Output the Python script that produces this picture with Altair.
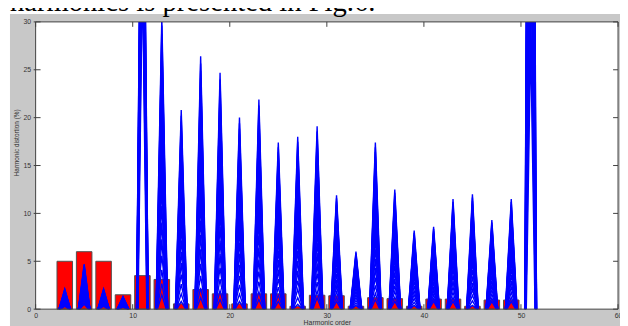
import altair as alt
import pandas as pd

# ---- data ----
bar_orders = [3, 5, 7, 9, 11, 13, 15, 17, 19, 21, 23, 25, 27, 29, 31, 33, 35, 37, 39, 41, 43, 45, 47, 49]
bar_values = [5.0, 6.0, 5.0, 1.5, 3.5, 3.1, 0.55, 2.05, 1.6, 0.55, 1.6, 1.6, 0.3, 1.45, 1.4, 0.3,
              1.2, 1.1, 0.3, 1.05, 1.05, 0.3, 0.95, 0.95]

spike_orders = [3, 5, 7, 9, 11, 13, 15, 17, 19, 21, 23, 25, 27, 29, 31, 33, 35, 37, 39, 41, 43, 45, 47, 49, 51]
spike_high = [2.1, 4.7, 2.1, 1.3, 65.0, 30.5, 20.8, 26.4, 24.7, 20.0, 21.9, 17.4, 18.0, 19.1, 11.9, 6.0,
              17.4, 12.5, 8.2, 8.6, 11.5, 12.0, 9.3, 11.5, 130.0]
spike_low = [0.3, 0.5, 0.3, 0.2, 35.0, 1.5, 0.8, 1.2, 1.0, 0.8, 1.0, 0.8, 0.5, 1.2, 0.8, 0.4,
             1.0, 0.8, 0.4, 0.8, 0.8, 0.4, 0.8, 0.8, 28.0]
curve_levels = [0.0, 0.04, 0.09, 0.14, 0.2, 0.26, 0.32, 0.38, 0.44, 0.5, 0.56, 0.62, 0.68,
                0.73, 0.78, 0.83, 0.87, 0.91, 0.94, 0.97, 1.0]
curve_halfwidths = [0.45, 0.5, 0.55, 0.6, 0.48, 0.52, 0.58, 0.62, 0.47, 0.53, 0.57, 0.6, 0.5,
                    0.55, 0.6, 0.52, 0.56, 0.6, 0.54, 0.57, 0.6]

x_ticks = [0, 10, 20, 30, 40, 50, 60]
y_ticks = [0, 5, 10, 15, 20, 25, 30]

# ---- geometry / style ----
BAR_HALF = 0.8
W, H = 590, 291
FONT = "Liberation Sans"
AX = "#404040"

bars_df = pd.DataFrame({"h": bar_orders, "v": bar_values})
bars_df["x0"] = bars_df["h"] - BAR_HALF
bars_df["x1"] = bars_df["h"] + BAR_HALF
bars_df["base"] = 0.0

rows = []
for k, (f, hw) in enumerate(zip(curve_levels, curve_halfwidths)):
    for h, hi, lo in zip(spike_orders, spike_high, spike_low):
        p = lo + (hi - lo) * f
        g = f"{k}-{h}"
        rows.append({"g": g, "o": 0, "x": h - hw, "y": 0.0})
        rows.append({"g": g, "o": 1, "x": h, "y": p})
        rows.append({"g": g, "o": 2, "x": h + hw, "y": 0.0})
lines_df = pd.DataFrame(rows)

one = pd.DataFrame({"a": [0]})
xt = pd.DataFrame({"t": x_ticks})
yt = pd.DataFrame({"t": y_ticks})

xs = alt.Scale(domain=[0, 60], nice=False, zero=False)
ys = alt.Scale(domain=[0, 30], nice=False)

x_axis = alt.Axis(values=x_ticks, ticks=False, domain=False, grid=False, labelFontSize=7,
                  labelColor="#333333", labelFont=FONT, labelPadding=2, labelFlush=False,
                  titleFontSize=7, titleFont=FONT, titleFontWeight="normal", titleColor="#333333",
                  titlePadding=1, zindex=1)
y_axis = alt.Axis(values=y_ticks, ticks=False, domain=False, grid=False, labelFontSize=7,
                  labelColor="#333333", labelFont=FONT, labelPadding=5, labelFlush=False,
                  titleFontSize=6.5, titleFont=FONT, titleFontWeight="normal", titleColor="#333333",
                  titleX=-16, titleY=122, zindex=1)
XT = "Harmonic order"
YT = "Harmonic distortion (%)"

bg = alt.Chart(one).mark_rect(color="#c8c8c8").encode(
    x=alt.value(-26), x2=alt.value(600), y=alt.value(-8), y2=alt.value(320))
white = alt.Chart(one).mark_rect(color="white").encode(
    x=alt.value(0), x2=alt.value(W), y=alt.value(0), y2=alt.value(H))

bars = alt.Chart(bars_df).mark_rect(color="#ff0000", stroke="#505050", strokeWidth=1).encode(
    x=alt.X("x0:Q", scale=xs, axis=x_axis, title=XT),
    x2="x1:Q",
    y=alt.Y("v:Q", scale=ys, axis=y_axis, title=YT),
    y2="base:Q",
)

lines = alt.Chart(lines_df).mark_line(color="#0000ff", strokeWidth=1.4, clip=True).encode(
    x=alt.X("x:Q", scale=xs, axis=x_axis, title=XT),
    y=alt.Y("y:Q", scale=ys, axis=y_axis, title=YT),
    detail="g:N",
    order="o:Q",
)

yl = alt.Chart(yt).mark_rule(color=AX).encode(
    y=alt.Y("t:Q", scale=ys, axis=y_axis, title=YT), x=alt.value(-2), x2=alt.value(5))
yr = alt.Chart(yt).mark_rule(color=AX).encode(
    y=alt.Y("t:Q", scale=ys, axis=y_axis, title=YT), x=alt.value(W - 5), x2=alt.value(W))
xb = alt.Chart(xt).mark_rule(color=AX).encode(
    x=alt.X("t:Q", scale=xs, axis=x_axis, title=XT), y=alt.value(H - 5), y2=alt.value(H))
xtop = alt.Chart(xt).mark_rule(color=AX).encode(
    x=alt.X("t:Q", scale=xs, axis=x_axis, title=XT), y=alt.value(0), y2=alt.value(5))

border = alt.Chart(one).mark_rect(fillOpacity=0, stroke=AX, strokeWidth=1).encode(
    x=alt.value(0), x2=alt.value(W), y=alt.value(0), y2=alt.value(H))

caption = alt.Chart(one).mark_text(
    text="harmonics is presented in Fig.6.", font="Liberation Serif", fontSize=29,
    color="black", align="left", baseline="alphabetic").encode(
    x=alt.value(-26), y=alt.value(-11))

chart = alt.layer(bg, white, bars, lines, yl, yr, xb, xtop, border, caption).properties(
    width=W, height=H,
    padding={"left": 28, "top": 12, "right": 2, "bottom": 15},
    autosize=alt.AutoSizeParams(type="none"),
).configure_view(stroke=None)

chart.save("out.html", embed_options={"renderer": "svg", "actions": False})
